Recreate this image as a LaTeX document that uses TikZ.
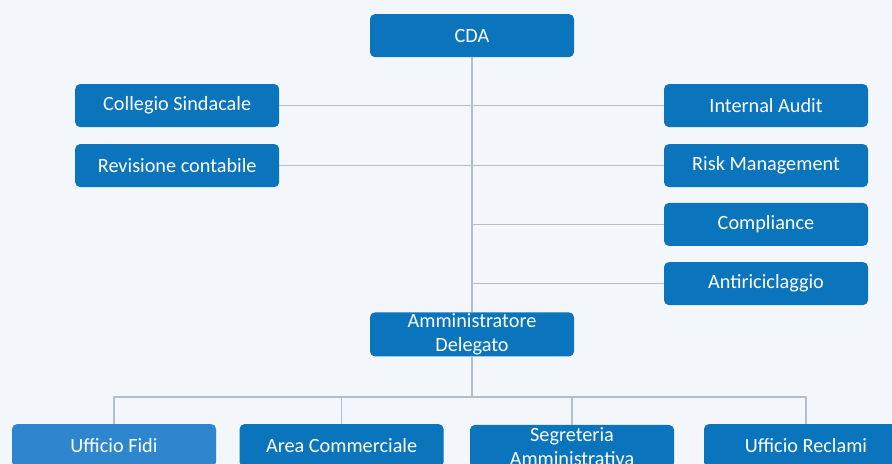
\documentclass[tikz,border=0pt]{standalone}
\usepackage{fontspec}
\setmainfont{Carlito}
\usepackage{xcolor}
\usepackage{tikz}

\definecolor{boxblue}{HTML}{0A74BD}
\definecolor{boxlight}{HTML}{2E86CF}
\definecolor{paper}{HTML}{F3F7FB}
\definecolor{wire}{HTML}{B2BEC9}

\begin{document}
\begin{tikzpicture}[
    font=\fontsize{14.4}{17}\selectfont,
    unit/.style={fill=boxblue, text=white, rounded corners=3.5pt, inner sep=1pt, align=center, minimum width=5.1cm, minimum height=1.075cm},
    link/.style={draw=wire, line width=0.8pt}
]

% Canvas
\clip (0,0) rectangle (22.3,11.6);
\fill[paper] (0,0) rectangle (22.3,11.6);

% Nodes
\node[unit] (cda) at (11.8, 10.71) {CDA};
\node[unit] (collegio) at (4.43, 8.96) {Collegio Sindacale};
\node[unit] (revisione) at (4.43, 7.46) {Revisione contabile};

\node[unit] (audit) at (19.15, 8.96) {Internal Audit};
\node[unit] (risk) at (19.15, 7.46) {Risk Management};
\node[unit] (compliance) at (19.15, 5.99) {Compliance};
\node[unit] (antiric) at (19.15, 4.51) {Antiriciclaggio};

\node[unit] (ad) at (11.8, 3.24) {Amministratore\\Delegato};

\node[unit, fill=boxlight] (fidi) at (2.85, 0.46) {Ufficio Fidi};
\node[unit] (comm) at (8.54, 0.46) {Area Commerciale};
\node[unit] (segr) at (14.3, 0.44) {Segreteria\\Amministrativa};
\node[unit] (reclami) at (20.15, 0.46) {Ufficio Reclami};

\coordinate (bus) at (11.8, 1.675);

% Lines
\draw[link] (cda) -- (ad);
\draw[link] (collegio) -- (audit);
\draw[link] (revisione) -- (risk);
\draw[link] (compliance) -- (compliance -| cda);
\draw[link] (antiric) -- (antiric -| cda);

\draw[link] (ad) -- (bus);
\draw[link] (fidi.north) |- (bus) -| (reclami.north);
\draw[link] (comm.north) -- (comm.north |- bus);
\draw[link] (segr.north) -- (segr.north |- bus);

\end{tikzpicture}
\end{document}
